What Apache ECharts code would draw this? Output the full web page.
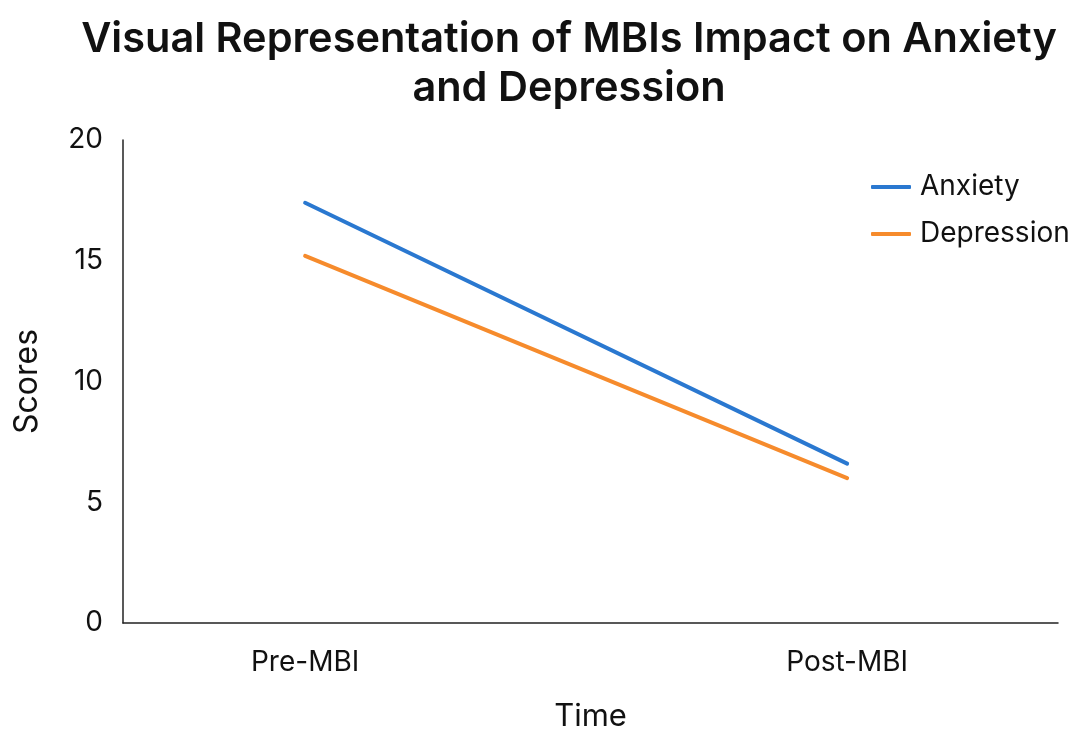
<!DOCTYPE html>
<html>
<head>
<meta charset="utf-8">
<script src="https://cdn.jsdelivr.net/npm/echarts@6/dist/echarts.min.js"></script>
<style>html,body{margin:0;padding:0;background:#fff}#c{width:1076px;height:731px}</style>
</head>
<body>
<div id="c"></div>
<script>
const titleText = 'Visual Representation of MBIs Impact on Anxiety\nand Depression';
const categories = ['Pre-MBI', 'Post-MBI'];
const anxiety = [17.4, 6.6];
const depression = [15.2, 6.0];
const yTicks = [0, 5, 10, 15, 20];
const seriesNames = ['Anxiety', 'Depression'];
const colors = ['#2a78d0', '#f68b2c'];

const FONT = 'Inter, "Noto Sans", sans-serif';
const chart = echarts.init(document.getElementById('c'), null, {renderer: 'canvas'});
const toPts = arr => arr.map((v, i) => [i, v]);
chart.setOption({
  animation: false,
  backgroundColor: '#fff',
  title: {
    text: titleText, left: 564, textAlign: 'center', top: 10,
    textStyle: {fontFamily: FONT, fontSize: 41.5, fontWeight: 600, color: '#111', lineHeight: 49}
  },
  legend: {
    orient: 'vertical', left: 866, top: 168, itemWidth: 40, itemHeight: 4, itemGap: 19,
    icon: 'roundRect',
    textStyle: {fontFamily: FONT, fontSize: 28, color: '#111', padding: [0,0,0,4]},
    data: seriesNames
  },
  grid: {left: 123, right: 18, top: 140, bottom: 108, containLabel: false, outerBoundsMode: 'none'},
  xAxis: {
    type: 'value', min: -0.336, max: 1.389,
    name: 'Time', nameLocation: 'middle', nameGap: 78,
    nameTextStyle: {fontFamily: FONT, fontSize: 31, color: '#111'},
    axisLine: {show: true, onZero: false, lineStyle: {color: '#222', width: 1.5}},
    axisTick: {show: false},
    splitLine: {show: false},
    axisLabel: {
      customValues: [0, 1], margin: 26,
      fontFamily: FONT, fontSize: 28, color: '#111',
      formatter: v => categories[Math.round(v)] || ''
    }
  },
  yAxis: {
    type: 'value', min: yTicks[0], max: yTicks[yTicks.length-1], interval: 5,
    name: 'Scores', nameLocation: 'middle', nameGap: 80,
    nameTextStyle: {fontFamily: FONT, fontSize: 32, color: '#111'},
    axisLine: {show: true, onZero: false, lineStyle: {color: '#222', width: 1.5}},
    axisTick: {show: false},
    splitLine: {show: false},
    axisLabel: {margin: 20, fontFamily: FONT, fontSize: 28, color: '#111'}
  },
  series: [
    {name: seriesNames[0], type: 'line', data: toPts(anxiety), symbol: 'none',
     color: colors[0], lineStyle: {width: 4, cap: 'round', color: colors[0]}},
    {name: seriesNames[1], type: 'line', data: toPts(depression), symbol: 'none',
     color: colors[1], lineStyle: {width: 4, cap: 'round', color: colors[1]}}
  ]
});
</script>
</body>
</html>
